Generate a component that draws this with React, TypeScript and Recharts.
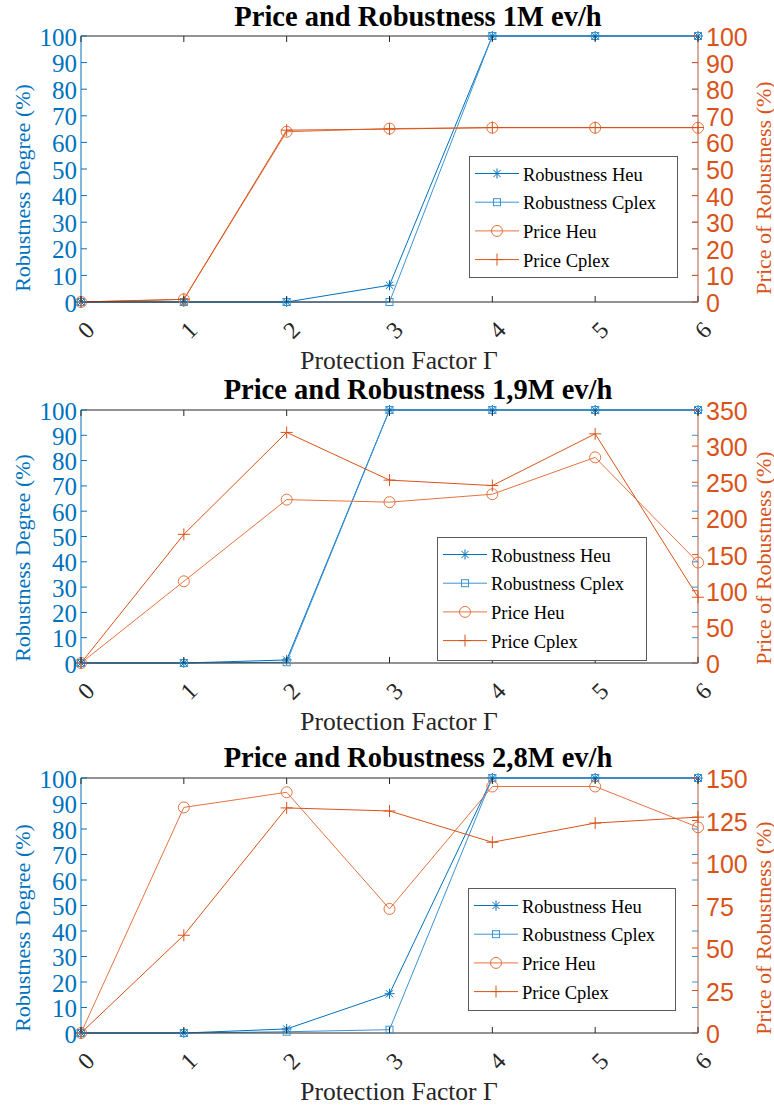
import React from 'react';
import { LineChart, Line, XAxis, YAxis, Legend, ReferenceLine, Label } from 'recharts';

// ---------- data ----------
const gammas = [0, 1, 2, 3, 4, 5, 6];
const robustnessTicks = [0, 10, 20, 30, 40, 50, 60, 70, 80, 90, 100];

const titles = ['Price and Robustness 1M ev/h', 'Price and Robustness 1,9M ev/h', 'Price and Robustness 2,8M ev/h'];

// panel 1 (1M ev/h)
const rob1Heu = [0, 0, 0, 6.3, 100, 100, 100];
const rob1Cplex = [0, 0, 0, 0, 100, 100, 100];
const price1Heu = [0, 1, 64, 65.2, 65.5, 65.5, 65.5];
const price1Cplex = [0, 1, 64.6, 65, 65.6, 65.6, 65.6];
const price1Ticks = [0, 10, 20, 30, 40, 50, 60, 70, 80, 90, 100];

// panel 2 (1,9M ev/h)
const rob2Heu = [0, 0, 1.2, 100, 100, 100, 100];
const rob2Cplex = [0, 0, 0.3, 100, 100, 100, 100];
const price2Heu = [0, 113, 226, 222.5, 233.5, 284.5, 139];
const price2Cplex = [0, 178, 319, 253, 245.5, 317, 91];
const price2Ticks = [0, 50, 100, 150, 200, 250, 300, 350];

// panel 3 (2,8M ev/h)
const rob3Heu = [0, 0, 1.6, 15.4, 100, 100, 100];
const rob3Cplex = [0, 0, 0.5, 1.3, 100, 100, 100];
const price3Heu = [0, 132.7, 141.6, 73, 145, 145, 121];
const price3Cplex = [0, 57.5, 132.4, 130.6, 112.2, 123.5, 127];
const price3Ticks = [0, 25, 50, 75, 100, 125, 150];

const seriesNames = ['Robustness Heu', 'Robustness Cplex', 'Price Heu', 'Price Cplex'];

// ---------- styles ----------
const BLUE_H = '#0072BD';
const BLUE_C = '#3A93D5';
const OR_H = '#E4733F';
const OR_C = '#D95319';
const AX = '#262626';
const SERIF = '"Liberation Serif", "Times New Roman", serif';
const SANS = '"Liberation Sans", Arial, sans-serif';
const PL = 81;
const PR = 698;
const EXTRA = 12;

type MarkerKind = 'star' | 'square' | 'circle' | 'plus';
const seriesStyle: { color: string; marker: MarkerKind }[] = [
  { color: BLUE_H, marker: 'star' },
  { color: BLUE_C, marker: 'square' },
  { color: OR_H, marker: 'circle' },
  { color: OR_C, marker: 'plus' },
];

function Marker({ kind, cx, cy, color }: { kind: MarkerKind; cx: number; cy: number; color: string }) {
  if (kind === 'star') {
    const r = 5;
    const d = 3.6;
    return (
      <g stroke={color} strokeWidth={1} fill="none">
        <line x1={cx} y1={cy - r} x2={cx} y2={cy + r} />
        <line x1={cx - r} y1={cy} x2={cx + r} y2={cy} />
        <line x1={cx - d} y1={cy - d} x2={cx + d} y2={cy + d} />
        <line x1={cx - d} y1={cy + d} x2={cx + d} y2={cy - d} />
      </g>
    );
  }
  if (kind === 'square') {
    return <rect x={cx - 3.5} y={cy - 3.5} width={7} height={7} stroke={color} strokeWidth={1} fill="none" />;
  }
  if (kind === 'circle') {
    return <circle cx={cx} cy={cy} r={5.5} stroke={color} strokeWidth={1} fill="none" />;
  }
  const r = 6;
  return (
    <g stroke={color} strokeWidth={1} fill="none">
      <line x1={cx} y1={cy - r} x2={cx} y2={cy + r} />
      <line x1={cx - r} y1={cy} x2={cx + r} y2={cy} />
    </g>
  );
}

const makeDot = (kind: MarkerKind, color: string) => (p: any) => {
  const { cx, cy, index } = p;
  if (cx == null || cy == null) return <g key={`n-${kind}-${index}`} />;
  return (
    <g key={`d-${kind}-${index}`}>
      <Marker kind={kind} cx={cx} cy={cy} color={color} />
    </g>
  );
};

type LegendPos = { left: number; top: number; width: number; height: number };

function LegendBox({ pos }: { pos: LegendPos }) {
  return (
    <svg width={pos.width} height={pos.height} style={{ display: 'block' }}>
      <rect x={0.5} y={0.5} width={pos.width - 1} height={pos.height - 1} fill="#fff" stroke="#5a5a5a" strokeWidth={1} />
      {seriesNames.map((name, i) => {
        const y = 17.5 + i * 28.7;
        const st = seriesStyle[i];
        return (
          <g key={name}>
            <line x1={6} x2={50} y1={y} y2={y} stroke={st.color} strokeWidth={1} />
            <Marker kind={st.marker} cx={28} cy={y} color={st.color} />
            <text x={54} y={y + 1} dominantBaseline="central" style={{ fontFamily: SERIF, fontSize: 18.5 }} fill="#000">
              {name}
            </text>
          </g>
        );
      })}
    </svg>
  );
}

type PanelCfg = {
  title: string;
  robH: number[];
  robC: number[];
  priceH: number[];
  priceC: number[];
  priceTicks: number[];
  top: number;
  height: number;
  plotTop: number;
  plotBottom: number;
  titleY: number;
  legend: LegendPos;
};

function Panel({ cfg }: { cfg: PanelCfg }) {
  const PT = cfg.plotTop;
  const PB = cfg.plotBottom;
  const data = gammas.map((g, i) => ({
    g,
    rh: cfg.robH[i],
    rc: cfg.robC[i],
    ph: cfg.priceH[i],
    pc: cfg.priceC[i],
  }));
  const priceMax = cfg.priceTicks[cfg.priceTicks.length - 1];

  const xTick = (p: any) => {
    const x = p.x;
    return (
      <g>
        <line x1={x} x2={x} y1={PB} y2={PB - 6} stroke={AX} strokeWidth={1} />
        <line x1={x} x2={x} y1={PT} y2={PT + 6} stroke={AX} strokeWidth={1} />
        <text
          transform={`translate(${x + 5},${PB + 28}) rotate(-45)`}
          textAnchor="middle"
          dominantBaseline="central"
          style={{ fontFamily: SERIF, fontSize: 24 }}
          fill={AX}
        >
          {p.payload.value}
        </text>
      </g>
    );
  };

  const leftTick = (p: any) => {
    const y = p.y;
    return (
      <g>
        <line x1={PL} x2={PL + 6} y1={y} y2={y} stroke={BLUE_H} strokeWidth={1} />
        <line x1={PR - 6} x2={PR} y1={y} y2={y} stroke={BLUE_C} strokeWidth={1} />
        <text x={PL - 4} y={y + 1} textAnchor="end" dominantBaseline="central" style={{ fontFamily: SERIF, fontSize: 25 }} fill={BLUE_H}>
          {p.payload.value}
        </text>
      </g>
    );
  };

  const rightTick = (p: any) => {
    const y = p.y;
    return (
      <g>
        <line x1={PR - 6} x2={PR} y1={y} y2={y} stroke={OR_C} strokeWidth={1} />
        <text x={PR + 8} y={y + 1} textAnchor="start" dominantBaseline="central" style={{ fontFamily: SANS, fontSize: 25 }} fill={OR_C}>
          {p.payload.value}
        </text>
      </g>
    );
  };

  return (
    <div style={{ position: 'absolute', left: 0, top: cfg.top }}>
      <LineChart width={774} height={cfg.height + EXTRA} data={data} margin={{ top: PT, right: 0, bottom: EXTRA, left: 0 }}>
        <ReferenceLine yAxisId="L" y={100} stroke={AX} strokeWidth={1} ifOverflow="extendDomain" />
        <XAxis
          dataKey="g"
          type="number"
          domain={[0, 6]}
          ticks={gammas}
          interval={0}
          height={cfg.height - PB}
          axisLine={{ stroke: AX, strokeWidth: 1 }}
          tickLine={false}
          tick={xTick}
        >
          <Label
            content={() => (
              <text x={399} y={PB + 58} textAnchor="middle" dominantBaseline="central" style={{ fontFamily: SERIF, fontSize: 25.5 }} fill={AX}>
                Protection Factor Γ
              </text>
            )}
          />
          <Label
            content={() => (
              <text x={418} y={cfg.titleY} textAnchor="middle" style={{ fontFamily: SERIF, fontSize: 28.5, fontWeight: 'bold' }} fill="#000">
                {cfg.title}
              </text>
            )}
          />
        </XAxis>
        <YAxis
          yAxisId="L"
          domain={[0, 100]}
          ticks={robustnessTicks}
          interval={0}
          width={PL}
          axisLine={{ stroke: BLUE_H, strokeWidth: 1 }}
          tickLine={false}
          tick={leftTick}
        >
          <Label
            content={() => (
              <text
                transform={`translate(22,188) rotate(-90)`}
                textAnchor="middle"
                dominantBaseline="central"
                style={{ fontFamily: SERIF, fontSize: 22 }}
                fill={BLUE_H}
              >
                Robustness Degree (%)
              </text>
            )}
          />
        </YAxis>
        <YAxis
          yAxisId="R"
          orientation="right"
          domain={[0, priceMax]}
          ticks={cfg.priceTicks}
          interval={0}
          width={774 - PR}
          axisLine={{ stroke: '#B5573A', strokeWidth: 1 }}
          tickLine={false}
          tick={rightTick}
        >
          <Label
            content={() => (
              <text
                transform={`translate(763,188) rotate(-90)`}
                textAnchor="middle"
                dominantBaseline="central"
                style={{ fontFamily: SERIF, fontSize: 22 }}
                fill={OR_C}
              >
                Price of Robustness (%)
              </text>
            )}
          />
        </YAxis>
        <Line yAxisId="L" dataKey="rh" stroke={BLUE_H} strokeWidth={1} dot={makeDot('star', BLUE_H)} activeDot={false} isAnimationActive={false} />
        <Line yAxisId="L" dataKey="rc" stroke={BLUE_C} strokeWidth={1} dot={makeDot('square', BLUE_C)} activeDot={false} isAnimationActive={false} />
        <Line yAxisId="R" dataKey="ph" stroke={OR_H} strokeWidth={1} dot={makeDot('circle', OR_H)} activeDot={false} isAnimationActive={false} />
        <Line yAxisId="R" dataKey="pc" stroke={OR_C} strokeWidth={1} dot={makeDot('plus', OR_C)} activeDot={false} isAnimationActive={false} />
        <Legend
          layout="vertical"
          verticalAlign="middle"
          align="center"
          wrapperStyle={{ position: 'absolute', left: cfg.legend.left, top: cfg.legend.top, width: cfg.legend.width, height: cfg.legend.height }}
          content={() => <LegendBox pos={cfg.legend} />}
        />
      </LineChart>
    </div>
  );
}

const panels: PanelCfg[] = [
  {
    title: titles[0], robH: rob1Heu, robC: rob1Cplex, priceH: price1Heu, priceC: price1Cplex, priceTicks: price1Ticks,
    top: 0, height: 370, plotTop: 36, plotBottom: 302, titleY: 26,
    legend: { left: 469, top: 156, width: 209, height: 122 },
  },
  {
    title: titles[1], robH: rob2Heu, robC: rob2Cplex, priceH: price2Heu, priceC: price2Cplex, priceTicks: price2Ticks,
    top: 370, height: 370, plotTop: 40, plotBottom: 293, titleY: 29,
    legend: { left: 437, top: 167, width: 210, height: 124 },
  },
  {
    title: titles[2], robH: rob3Heu, robC: rob3Cplex, priceH: price3Heu, priceC: price3Cplex, priceTicks: price3Ticks,
    top: 740, height: 367, plotTop: 38, plotBottom: 293, titleY: 27,
    legend: { left: 468, top: 148, width: 208, height: 123 },
  },
];

export default function App() {
  return (
    <div style={{ position: 'absolute', left: 0, top: 0, width: 774, height: 1107, background: '#fff', overflow: 'hidden' }}>
      {panels.map((p) => (
        <Panel key={p.title} cfg={p} />
      ))}
    </div>
  );
}
